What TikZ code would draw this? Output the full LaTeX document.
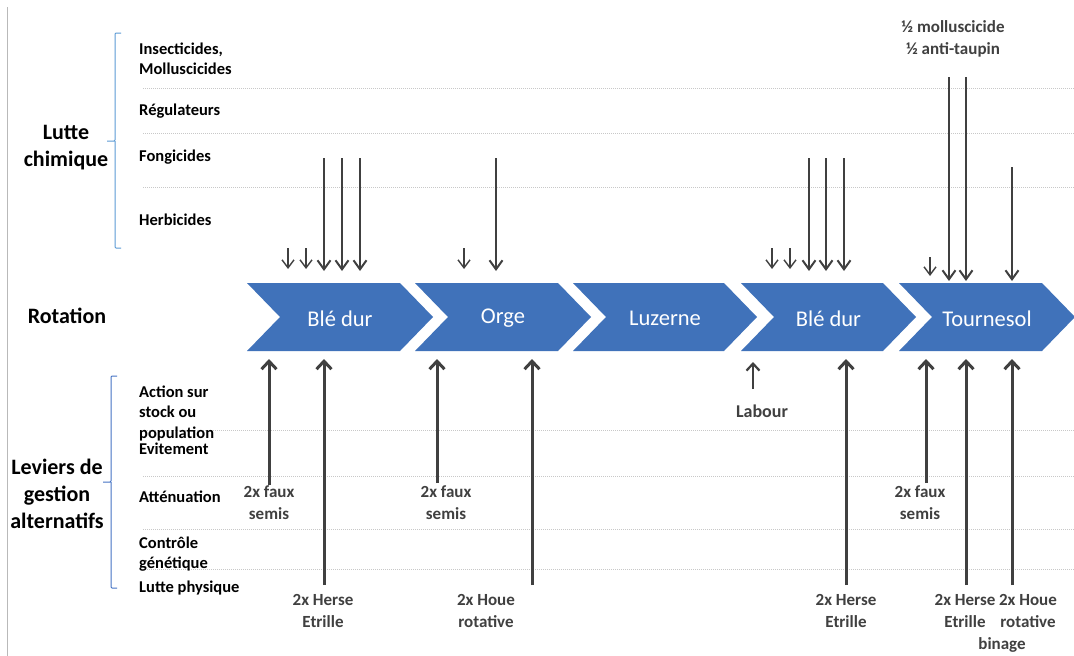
\documentclass[tikz,border=0pt]{standalone}
\usepackage{fontspec}
\setmainfont{Carlito}
\usetikzlibrary{arrows.meta}
\definecolor{chev}{RGB}{64,114,186}
\definecolor{ink}{RGB}{64,64,64}
\definecolor{gridc}{RGB}{200,200,200}
\definecolor{braceA}{RGB}{91,155,213}
\definecolor{braceB}{RGB}{68,114,196}
\begin{document}
\begin{tikzpicture}[x=1pt,y=-1pt,
  bigtxt/.style={font=\fontsize{22}{27}\selectfont\bfseries, align=center, inner sep=0pt},
  cattxt/.style={font=\fontsize{16.5}{20.5}\selectfont\bfseries, align=left, anchor=west, inner sep=0pt},
  labtxt/.style={font=\fontsize{17}{22}\selectfont\bfseries, text=ink, align=center, inner sep=0pt},
  chevtxt/.style={font=\fontsize{22.5}{24}\selectfont, text=white, inner sep=0pt},
  gridline/.style={gridc, line width=0.9pt, dash pattern=on 1pt off 1pt},
  thinarr/.style={ink, line width=1.4pt, -{Straight Barb[length=8pt,width=12pt]}},
  longarr/.style={ink, line width=2pt, -{Straight Barb[length=9pt,width=13pt]}},
  uparr/.style={ink, line width=3pt, -{Straight Barb[length=8pt,width=15pt]}},
  chevron/.style={fill=chev}]
\useasboundingbox (0,0) rectangle (1074,656);
\fill[white] (0,0) rectangle (1074,656);

% left frame line
\draw[gridc!80!gray, line width=1.5pt] (7.5,7) -- (7.5,656);

% row separators
\foreach \y in {88,133,187,430,476,529,569}
  \draw[gridline] (143,\y) -- (1074,\y);

% braces
\draw[braceA, line width=1pt, rounded corners=1pt]
  (121,33) -- (115,33) -- (115,141) -- (107,141) (115,141) -- (115,248) -- (121,248);
\draw[braceB, line width=1pt, rounded corners=1pt]
  (117,376) -- (111,376) -- (111,482) -- (103,482) (111,482) -- (111,588) -- (117,588);

% group titles
\node[bigtxt] (chim) at (66,148) {Lutte\\chimique};
\node[bigtxt] (rot) at (67,316) {Rotation};
\node[bigtxt] (alt) at (57,494) {Leviers de\\gestion\\alternatifs};

% chemical categories
\node[cattxt] (insect) at (139,59) {Insecticides,\\Molluscicides};
\node[cattxt] (regul) at (139,111) {Régulateurs};
\node[cattxt] (fong) at (139,157) {Fongicides};
\node[cattxt] (herb) at (139,220) {Herbicides};

% alternative levers
\node[cattxt] (stock) at (139,413) {Action sur\\stock ou\\population};
\node[cattxt] (evit) at (139,449) {Evitement};
\node[cattxt] (attn) at (139,497) {Atténuation};
\node[cattxt] (genet) at (139,554) {Contrôle\\génétique};
\node[cattxt] (phys) at (139,588) {Lutte physique};

% rotation chevrons: left edge, tip
\foreach \l/\t/\n/\txt in {247/433/c1/Blé dur, 415/591/c2/Orge, 573/757/c3/Luzerne, 741/916/c4/Blé dur, 899/1075/c5/Tournesol}{
  \fill[chevron] (\l,283) -- ({\t-33},283) -- (\t,317) -- ({\t-33},351) -- (\l,351) -- ({\l+33},317) -- cycle;
  \node[chevtxt] (\n) at ({(\l+\t)/2},318.5) {\txt};
}

% chemical treatments (downward arrows)
\foreach \x/\ys/\ye/\n in {288/248/269/a1, 306/248/269/a2, 464/248/269/a3, 772/248/269/a4, 790/248/269/a5, 930/257/276/a6}{
  \coordinate (s\n) at (\x,\ys);
  \coordinate (e\n) at (\x,\ye);
  \draw[thinarr] (s\n) -- (e\n);
}
\foreach \x/\ys/\ye/\n in {324/158/271/b1, 342/158/271/b2, 360/158/271/b3, 496/158/271/b4, 809/158/271/b5, 826/158/271/b6, 844/158/271/b7, 949/77/281/b8, 966/77/281/b9, 1012/167/281/b10}{
  \coordinate (s\n) at (\x,\ys);
  \coordinate (e\n) at (\x,\ye);
  \draw[longarr] (s\n) -- (e\n);
}
\node[labtxt] (tournchem) at (953,39) {½ molluscicide\\½ anti-taupin};

% alternative levers (upward arrows)
\foreach \x/\yb/\n in {269/485/u1, 324/585/u2, 437/483/u3, 532/585/u4, 846/585/u5, 926/483/u6, 966/585/u7, 1012/585/u8}{
  \coordinate (f\n) at (\x,\yb);
  \coordinate (t\n) at (\x,359);
  \draw[uparr] (f\n) -- (t\n);
}
\coordinate (flab) at (753,389);
\coordinate (tlab) at (753,362);
\draw[ink, line width=2.2pt, -{Straight Barb[length=7pt,width=13pt]}] (flab) -- (tlab);
\node[labtxt, font=\fontsize{18}{22}\selectfont\bfseries] (labour) at (762,411) {Labour};

\node[labtxt] (l1) at (269,503) {2x faux\\semis};
\node[labtxt] (l2) at (323,611) {2x Herse\\Etrille};
\node[labtxt] (l3) at (446,503) {2x faux\\semis};
\node[labtxt] (l4) at (486,611) {2x Houe\\rotative};
\node[labtxt] (l5) at (846,611) {2x Herse\\Etrille};
\node[labtxt] (l6) at (920,503) {2x faux\\semis};
\node[labtxt] (l7) at (965,611) {2x Herse\\Etrille};
\node[labtxt] (l8) at (1028,611) {2x Houe\\rotative};
\node[labtxt] (l9) at (1002,645) {binage};
\end{tikzpicture}
\end{document}
